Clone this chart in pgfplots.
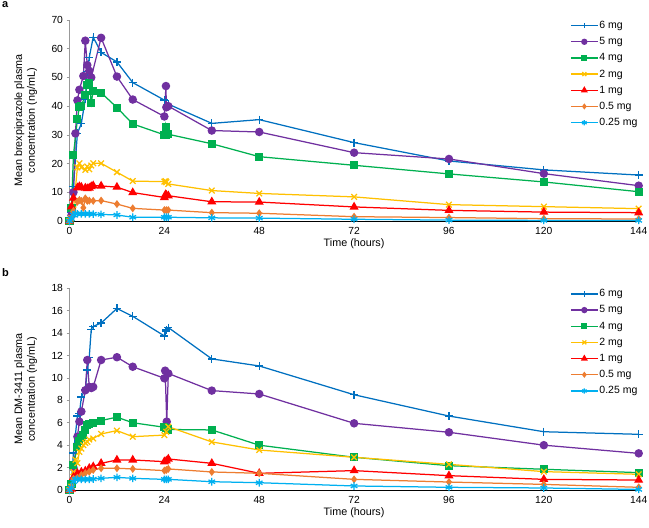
\documentclass[border=0pt]{standalone}
\usepackage{fontspec}
\setmainfont{Liberation Sans}
\usepackage{pgfplots}
\pgfplotsset{compat=1.18}
\definecolor{cA}{HTML}{0070C0}
\definecolor{cB}{HTML}{7030A0}
\definecolor{cC}{HTML}{00B050}
\definecolor{cD}{HTML}{FFC000}
\definecolor{cE}{HTML}{FF0000}
\definecolor{cF}{HTML}{ED7D31}
\definecolor{cG}{HTML}{00B0F0}
\pgfplotsset{
  pk/.style={
    scale only axis, width=569.2pt, clip=false,
    xmin=0, xmax=144, xtick={0,24,...,144},
    axis x line*=bottom, axis y line*=left,
    x axis line style={black, line width=0.8pt},
    y axis line style={gray!80, line width=0.6pt},
    xtick style={draw=none},
    ytick style={gray!80, line width=0.6pt},
    tick align=outside, major tick length=3pt,
    /pgf/number format/assume math mode=true,
    tick label style={font=\fontsize{10.3}{12}\selectfont},
    label style={font=\fontsize{10.8}{12.8}\selectfont},
    xlabel={Time (hours)},
    xlabel style={at={(axis description cs:0.5,0)}, anchor=center, yshift=-23pt},
    ylabel style={at={(axis description cs:-0.077,0.5)}, anchor=center, align=center, rotate=0},
    legend cell align=left,
    legend image code/.code={\draw[mark repeat=2,mark phase=2,#1,every mark/.append style={scale=0.7}] plot coordinates {(0cm,0cm) (0.475cm,0cm) (0.95cm,0cm)};},
    legend style={draw=none, fill=none, inner sep=0pt, anchor=north west,
      font=\fontsize{10.5}{12.6}\selectfont, row sep=5.4pt,
      nodes={inner sep=1pt}},
    every axis plot/.append style={line width=1.25pt},
  },
  s6/.style={cA, mark=+, mark size=4pt},
  s5/.style={cB, mark=*, mark size=3.6pt},
  s4/.style={cC, mark=square*, mark size=3.4pt},
  s2/.style={cD, mark=x, mark size=4pt},
  s1/.style={cE, mark=triangle*, mark size=4pt},
  s05/.style={cF, mark=diamond*, mark size=3pt},
  s025/.style={cG, mark=asterisk, mark size=3.8pt},
}
\begin{document}
\begin{tikzpicture}
\path[use as bounding box] (0pt,0pt) rectangle (649pt,528pt);
\node[anchor=north west, inner sep=0pt, font=\fontsize{11}{13}\selectfont\bfseries] at (2pt,526.3pt) {a};
\node[anchor=north west, inner sep=0pt, font=\fontsize{11}{13}\selectfont\bfseries] at (2pt,259.7pt) {b};
% ---------- panel a ----------
\begin{axis}[pk, at={(69.5pt,307pt)}, anchor=south west, height=201pt,
  ymin=0, ymax=70, ytick={0,10,...,70},
  ylabel={Mean brexpiprazole plasma\\concentration (ng/mL)},
  legend style={at={(rel axis cs:0.8793,1.0)}}]
\addplot[s6] coordinates {(0,0) (0.5,3) (1,12) (2,30.5) (3,34) (4,42.5) (4.5,52) (5,57) (6,64) (8,58.7) (12,55.4) (16,48.2) (24,42.1) (25,40.7) (36,34) (48,35.3) (72,27.3) (96,20.9) (120,17.8) (144,16.0)};
\addplot[s5] coordinates {(0,0) (0.5,2) (1,10) (1.5,30.5) (2,42) (2.5,45.7) (3.5,50.5) (4,62.8) (4.5,54.3) (5,52.3) (5.5,50) (8,63.8) (12,50.3) (16,42.3) (24,36.4) (24.4,47) (24.5,39.6) (25,40) (36,31.5) (48,31.0) (72,23.8) (96,21.6) (120,16.5) (144,12.3)};
\addplot[s4] coordinates {(0,0) (0.5,4.5) (1,23) (2,35.4) (2.5,39.6) (3,40) (4,43.9) (4.5,47.5) (5,48.2) (5.5,41.2) (6,45.4) (8,44.7) (12,39.5) (16,33.8) (24,30) (24.3,32.9) (24.5,30) (25,30.2) (36,26.9) (48,22.4) (72,19.4) (96,16.4) (120,13.6) (144,10.2)};
\addplot[s2] coordinates {(0,0) (0.5,1) (1,4) (2,18.7) (2.5,20.1) (3,18.7) (4,17.8) (4.5,19) (5,18) (5.5,19.3) (6,20.1) (8,20.1) (12,17) (16,13.9) (24,13.7) (24.3,13.9) (24.5,13.5) (25,12.9) (36,10.6) (48,9.6) (72,8.4) (96,5.7) (120,5.0) (144,4.3)};
\addplot[s1] coordinates {(0,0) (0.5,5) (1,8) (2,11.6) (2.5,12) (3,11.8) (4,11.5) (4.5,11.3) (5,11.5) (5.5,12) (6,12.3) (8,12.2) (12,11.8) (16,9.9) (24,8.2) (24.3,9.2) (24.5,9) (25,8.8) (36,6.7) (48,6.6) (72,4.9) (96,3.7) (120,3.1) (144,2.9)};
\addplot[s05] coordinates {(0,0) (0.5,1) (1,3.5) (2,6.7) (2.5,7.3) (3,7) (3.5,4.6) (4,7.9) (4.5,7) (5,7.1) (6,7) (8,7.1) (12,5.9) (16,4.4) (24,3.8) (24.5,3.8) (25,3.8) (36,2.9) (48,2.7) (72,1.5) (96,1.2) (120,0.8) (144,0.7)};
\addplot[s025] coordinates {(0,0) (0.5,0.8) (1,2.1) (1.5,2.6) (2,2.5) (3,2.5) (4,2.5) (5,2.5) (6,2.4) (8,2.3) (12,2.1) (16,1.3) (24,1.3) (24.5,1.3) (25,1.3) (36,1.1) (48,1.0) (72,0.6) (96,0.3) (120,0.2) (144,0.2)};
\legend{6 mg,5 mg,4 mg,2 mg,1 mg,0.5 mg,0.25 mg}
\end{axis}
% ---------- panel b ----------
\begin{axis}[pk, at={(69.5pt,38pt)}, anchor=south west, height=201.7pt,
  ymin=0, ymax=18, ytick={0,2,...,18},
  ylabel={Mean DM-3411 plasma\\concentration (ng/mL)},
  legend style={at={(rel axis cs:0.8793,1.0)}}]
\addplot[s6] coordinates {(0,0) (0.5,0.7) (1,3.3) (2,6.6) (2.5,6.8) (3,8.3) (4,9.0) (4.5,10.7) (5,11.85) (5.5,14.35) (6,14.6) (8,14.9) (12,16.2) (16,15.5) (24,13.75) (24.3,14.2) (24.5,14.3) (25,14.5) (36,11.7) (48,11.07) (72,8.5) (96,6.6) (120,5.2) (144,4.97)};
\addplot[s5] coordinates {(0,0) (0.5,0.5) (1,2) (2,4.76) (2.5,6.1) (3,7.0) (4,8.9) (4.5,11.6) (5,9.2) (5.5,9.1) (6,9.2) (8,11.6) (12,11.85) (16,11.0) (24,9.97) (24.2,10.65) (24.6,6.1) (25,10.4) (36,8.87) (48,8.57) (72,5.95) (96,5.15) (120,4.0) (144,3.27)};
\addplot[s4] coordinates {(0,0) (0.5,0.5) (1,2.23) (2,3.87) (2.5,4.4) (3,4.6) (3.5,4.9) (4,5.36) (4.5,5.8) (5,5.9) (6,6.0) (8,6.2) (12,6.5) (16,6.0) (24,5.6) (24.5,5.5) (25,5.4) (36,5.36) (48,4.0) (72,2.92) (96,2.17) (120,1.85) (144,1.55)};
\addplot[s2] coordinates {(0,0) (0.5,0.3) (1,1.6) (1.5,2.7) (2,2.4) (2.5,3.4) (3,3.7) (3.5,4.0) (4,4.2) (4.5,4.3) (5,4.5) (6,4.6) (8,5.0) (12,5.3) (16,4.76) (24,4.9) (24.5,5.2) (25,5.65) (36,4.29) (48,3.57) (72,2.92) (96,2.29) (120,1.64) (144,1.4)};
\addplot[s1] coordinates {(0,0) (0.5,0.1) (1,1.13) (2,1.49) (3,1.6) (4,1.7) (5,1.94) (6,2.08) (8,2.38) (12,2.68) (16,2.68) (24,2.53) (24.5,2.6) (25,2.77) (36,2.38) (48,1.49) (72,1.73) (96,1.28) (120,0.95) (144,0.89)};
\addplot[s05] coordinates {(0,0) (0.5,0.3) (1,1.0) (2,1.1) (3,1.34) (4,1.5) (5,1.63) (6,1.79) (8,1.94) (12,1.94) (16,1.88) (24,1.73) (24.5,1.79) (25,1.88) (36,1.61) (48,1.49) (72,0.95) (96,0.71) (120,0.5) (144,0.24)};
\addplot[s025] coordinates {(0,0) (0.5,0.2) (1,0.74) (1.5,0.95) (2,0.95) (3,0.95) (4,0.95) (5,0.95) (6,0.98) (8,1.04) (12,1.13) (16,1.04) (24,0.95) (24.5,0.95) (25,0.95) (36,0.74) (48,0.65) (72,0.36) (96,0.24) (120,0.18) (144,0.05)};
\legend{6 mg,5 mg,4 mg,2 mg,1 mg,0.5 mg,0.25 mg}
\end{axis}
\end{tikzpicture}
\end{document}
